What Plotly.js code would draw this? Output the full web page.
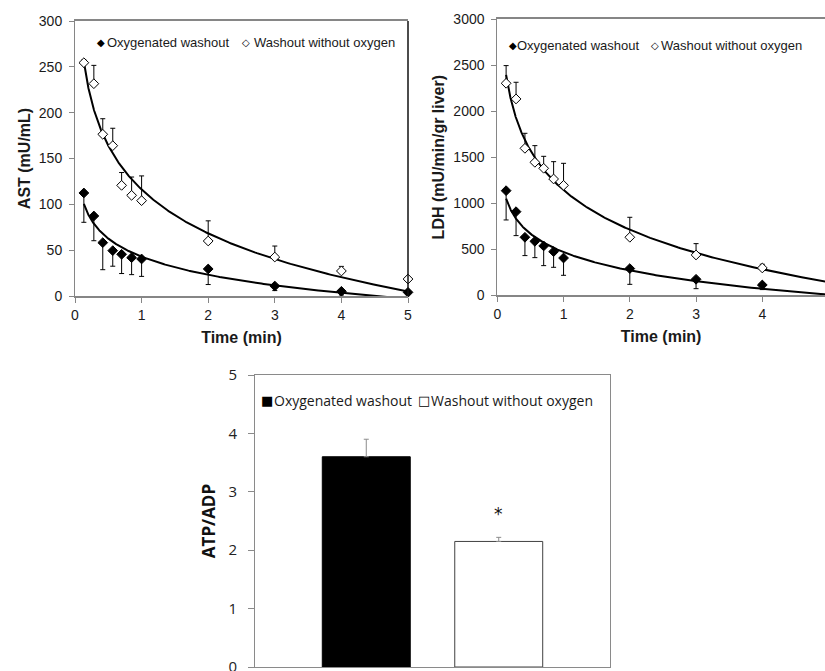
<!DOCTYPE html>
<html>
<head>
<meta charset="utf-8">
<script src="https://cdn.plot.ly/plotly-3.0.1.min.js"></script>
<style>html,body{margin:0;padding:0;background:#fff;}#chart{width:825px;height:671px;}</style>
</head>
<body>
<div id="chart"></div>
<script>
// ---------- DATA ----------
const seriesNames = ['Oxygenated washout', 'Washout without oxygen'];
const times = [0.133, 0.283, 0.417, 0.567, 0.7, 0.85, 1, 2, 3, 4, 5];

const astOxy      = [112.4, 87.3, 58.2, 49.5, 45.5, 41.8, 40.4, 29.5, 10.9, 5.1, 4.0];
const astOxyErr   = [32, 27, 29.5, 17, 21, 18.5, 19, 17, 5, 4, 2];
const astNoOxy    = [254.5, 231.6, 176.4, 164, 120.7, 109.8, 104, 60, 42.5, 27.3, 18.5];
const astNoOxyErr = [3, 20, 17, 19, 14, 20, 27, 22, 12, 5, 2];

const ldhOxy      = [1136, 908, 630, 586, 536, 474, 405, 290, 174, 112, 40];
const ldhOxyErr   = [318, 260, 199, 177, 214, 170, 188, 171, 102, 50, 30];
const ldhNoOxy    = [2302, 2132, 1596, 1444, 1379, 1263, 1194, 630, 438, 297, 170];
const ldhNoOxyErr = [192, 181, 163, 181, 130, 188, 239, 217, 123, 40, 30];

const atpAdp      = [3.6, 2.15];
const atpAdpErr   = [0.3, 0.07];
const significance = ['', '*'];

const xTicks = [0, 1, 2, 3, 4, 5];

// ---------- helpers ----------
const W = 825, H = 671;
const px = v => v / W;
const py = v => 1 - v / H;

// least-squares logarithmic trendline y = a + b ln(x), as the spreadsheet did
function logTrend(xs, ys) {
  const L = xs.map(Math.log);
  const n = xs.length;
  const mL = L.reduce((s, v) => s + v, 0) / n;
  const mY = ys.reduce((s, v) => s + v, 0) / n;
  let sxy = 0, sxx = 0;
  for (let i = 0; i < n; i++) { sxy += (L[i] - mL) * (ys[i] - mY); sxx += (L[i] - mL) * (L[i] - mL); }
  const b = sxy / sxx, a = mY - b * mL;
  const x0 = Math.min(...xs), x1 = Math.max(...xs);
  const cx = [], cy = [];
  for (let k = 0; k <= 300; k++) {
    const x = x0 * Math.pow(x1 / x0, k / 300);
    cx.push(x); cy.push(a + b * Math.log(x));
  }
  return {x: cx, y: cy};
}

const ARIAL = 'Liberation Sans, Arial, sans-serif';
const CAL = 'Open Sans, Noto Sans, sans-serif';
const AX = '#868686';

function markerTrace(xa, ya, ys, errs, filled, name, up) {
  return {
    type: 'scatter', mode: 'markers', x: times, y: ys, name: name,
    xaxis: xa, yaxis: ya, cliponaxis: false, showlegend: false,
    marker: {symbol: 'diamond', size: 7.5, color: filled ? '#000' : '#fff', line: {color: '#000', width: 1}},
    error_y: {type: 'data', symmetric: false,
      array: up ? errs : errs.map(() => 0),
      arrayminus: up ? errs.map(() => 0) : errs,
      color: '#000', thickness: 1, width: 2.5}
  };
}
function fitTrace(xa, ya, ys) {
  const f = logTrend(times, ys);
  return {type: 'scatter', mode: 'lines', x: f.x, y: f.y, xaxis: xa, yaxis: ya,
    showlegend: false, hoverinfo: 'skip', line: {color: '#000', width: 2}};
}

const traces = [
  fitTrace('x', 'y', astNoOxy),
  fitTrace('x', 'y', astOxy),
  markerTrace('x', 'y', astNoOxy, astNoOxyErr, false, seriesNames[1], true),
  markerTrace('x', 'y', astOxy, astOxyErr, true, seriesNames[0], false),
  fitTrace('x2', 'y2', ldhNoOxy),
  fitTrace('x2', 'y2', ldhOxy),
  markerTrace('x2', 'y2', ldhNoOxy, ldhNoOxyErr, false, seriesNames[1], true),
  markerTrace('x2', 'y2', ldhOxy, ldhOxyErr, true, seriesNames[0], false),
  {type: 'bar', x: [seriesNames[0]], y: [atpAdp[0]], name: seriesNames[0], xaxis: 'x3', yaxis: 'y3',
   width: 0.664, showlegend: false,
   marker: {color: '#000', line: {color: '#000', width: 1}},
   error_y: {type: 'data', symmetric: false, array: [atpAdpErr[0]], arrayminus: [0], color: '#8c8c8c', thickness: 1, width: 2.5}},
  {type: 'bar', x: [seriesNames[1]], y: [atpAdp[1]], name: seriesNames[1], xaxis: 'x3', yaxis: 'y3',
   width: 0.664, showlegend: false,
   marker: {color: '#fff', line: {color: '#404040', width: 1}},
   error_y: {type: 'data', symmetric: false, array: [atpAdpErr[1]], arrayminus: [0], color: '#8c8c8c', thickness: 1, width: 2.5}}
];

function timeAxis(dom, anchor, range) {
  return {domain: dom, anchor: anchor, range: range, tickvals: xTicks, ticktext: xTicks.map(String),
    ticks: 'outside', ticklen: 5, tickcolor: AX, tickwidth: 1,
    showline: true, linecolor: AX, linewidth: 2, mirror: true,
    showgrid: false, zeroline: false,
    tickfont: {family: ARIAL, size: 14, color: '#1a1a1a'},
    title: {text: 'Time (min)', standoff: 10, font: {family: ARIAL, size: 16, weight: 'bold', color: '#1a1a1a'}}};
}
function valAxis(dom, anchor, range, dtick, title) {
  return {domain: dom, anchor: anchor, range: range, dtick: dtick, tick0: 0,
    ticks: 'outside', ticklen: 5, tickcolor: AX, tickwidth: 1, ticklabelstandoff: 4,
    showline: true, linecolor: AX, linewidth: 1,
    showgrid: false, zeroline: false,
    tickfont: {family: ARIAL, size: 14, color: '#1a1a1a'},
    title: {text: title, standoff: 4, font: {family: ARIAL, size: 16, weight: 'bold', color: '#1a1a1a'}}};
}

const layout = {
  width: W, height: H, margin: {l: 0, r: 0, t: 0, b: 0},
  paper_bgcolor: '#fff', plot_bgcolor: '#fff', showlegend: false,
  font: {family: ARIAL, size: 14, color: '#1a1a1a'},
  xaxis: timeAxis([px(75), px(408)], 'y', [0, 5]),
  yaxis: valAxis([py(296), py(21)], 'x', [0, 300], 50, 'AST (mU/mL)'),
  xaxis2: timeAxis([px(497.3), 1], 'y2', [0, (825 - 497.3) / 66.25]),
  yaxis2: valAxis([py(295.3), py(19)], 'x2', [0, 3000], 500, 'LDH (mU/min/gr liver)'),
  xaxis3: {domain: [px(255), px(610)], anchor: 'y3', type: 'category', range: [-0.84, 1.84],
    showticklabels: false, ticks: '', showline: true, linecolor: '#8a8a8a', linewidth: 1, mirror: true,
    showgrid: false, zeroline: false},
  yaxis3: {domain: [py(667), py(375)], anchor: 'x3', range: [0, 5], dtick: 1, tick0: 0,
    ticks: 'outside', ticklen: 6, tickcolor: '#8a8a8a', ticklabelstandoff: 8, ticklabeloverflow: 'allow',
    showline: true, linecolor: '#8a8a8a', linewidth: 1, mirror: true,
    showgrid: false, zeroline: false,
    tickfont: {family: CAL, size: 15, color: '#222'},
    title: {text: 'ATP/ADP', standoff: 8, font: {family: CAL, size: 17, weight: 'bold', color: '#111'}}},
  shapes: [
    {type: 'line', xref: 'x domain', yref: 'y domain', x0: 1, x1: 1, y0: 0, y1: 1,
     line: {color: '#111', width: 1.5}}
  ],
  annotations: []
};

// legends drawn as text items
function legendItem(glyph, gsize, gx, tx, y, text, family, fsize) {
  layout.annotations.push({xref: 'paper', yref: 'paper', x: px(gx), y: py(y), xanchor: 'center', yanchor: 'middle',
    text: glyph, showarrow: false, font: {family: 'DejaVu Sans', size: gsize, color: '#000'}});
  layout.annotations.push({xref: 'paper', yref: 'paper', x: px(tx), y: py(y), xanchor: 'left', yanchor: 'middle',
    text: text, showarrow: false, font: {family: family, size: fsize, color: '#1a1a1a'}});
}
legendItem('\u25C6', 10, 100.5, 105, 43, seriesNames[0], ARIAL, 13);
legendItem('\u25C7', 10, 246, 252, 43, seriesNames[1], ARIAL, 13);
legendItem('\u25C6', 10, 512.5, 515, 45, seriesNames[0], ARIAL, 13);
legendItem('\u25C7', 10, 654.5, 659, 45, seriesNames[1], ARIAL, 13);
legendItem('\u25A0', 13, 266.5, 272, 400, seriesNames[0], CAL, 14);
legendItem('\u25A1', 13, 423.5, 429, 400, seriesNames[1], CAL, 14);

// significance marks above bars
significance.forEach((s, i) => {
  if (s) layout.annotations.push({xref: 'x3', yref: 'y3', x: seriesNames[i], y: 2.62, text: s,
    showarrow: false, xanchor: 'center', yanchor: 'middle', font: {family: 'DejaVu Sans', size: 17, color: '#111'}});
});

Plotly.newPlot('chart', traces, layout, {staticPlot: true, displayModeBar: false});
</script>
</body>
</html>
